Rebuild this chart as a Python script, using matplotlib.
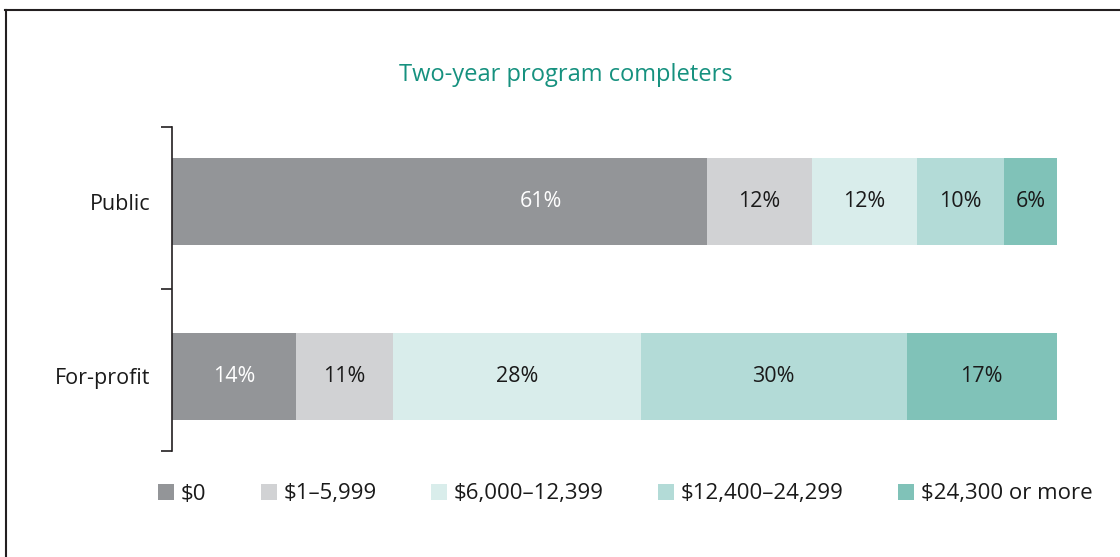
import matplotlib.pyplot as plt
import numpy as np
from matplotlib.patches import Patch
from matplotlib.lines import Line2D

plt.rcParams['font.family'] = ['Open Sans', 'DejaVu Sans']

sectors = ['Public', 'For-profit']
brackets = ['$0', '$1–5,999', '$6,000–12,399', '$12,400–24,299', '$24,300 or more']
public = [61, 12, 12, 10, 6]
for_profit = [14, 11, 28, 30, 17]
colors = ['#939598', '#d1d2d4', '#d9edeb', '#b3dbd7', '#80c2b8']
text_colors = ['white', '#1a1a1a', '#1a1a1a', '#1a1a1a', '#1a1a1a']

data = np.array([public, for_profit], dtype=float)
# bars fill the whole width, so scale each row to its own total
shares = data / data.sum(axis=1, keepdims=True) * 100

# where the label sits inside its segment (0 = left edge, 1 = right edge)
label_pos = np.full(data.shape, 0.5)
label_pos[0, 0] = 0.69

fig = plt.figure(figsize=(11.2, 5.57), dpi=100)
ax = fig.add_axes([172 / 1120, 1 - 451 / 557, 885 / 1120, 324 / 557])

y = np.arange(len(sectors))
left = np.zeros(len(sectors))
for j in range(len(brackets)):
    ax.barh(y, shares[:, j], left=left, height=0.5, color=colors[j], edgecolor='none')
    for i in range(len(sectors)):
        ax.text(left[i] + shares[i, j] * label_pos[i, j], y[i], f'{int(data[i, j])}%',
                ha='center', va='center', fontsize=15.5, color=text_colors[j])
    left += shares[:, j]

ax.set_xlim(0, 100)
ax.set_ylim(1.43, -0.43)
for s in ['top', 'right', 'bottom']:
    ax.spines[s].set_visible(False)
ax.spines['left'].set_color('#231f20')
ax.spines['left'].set_linewidth(1.2)
ax.set_xticks([])
ax.set_yticks(y)
ax.set_yticklabels(sectors, fontsize=15.5, color='#1a1a1a')
ax.tick_params(axis='y', which='major', length=0, pad=15.5)
ax.set_yticks([-0.43, 0.5, 1.43], minor=True)
ax.tick_params(axis='y', which='minor', length=8, width=1.2, color='#231f20', direction='out')

fig.text(566 / 1120, 1 - 75 / 557, 'Two-year program completers', ha='center', va='center',
         fontsize=17, color='#16917f')

handles = [Patch(facecolor=c, edgecolor='none') for c in colors]
fig.legend(handles, brackets, loc='center left', bbox_to_anchor=(138 / 1120, 1 - 494 / 557),
           ncol=5, frameon=False, fontsize=16, handlelength=0.72, handleheight=0.72,
           handletextpad=0.3, columnspacing=2.45, labelcolor='#1a1a1a')

# frame around the figure: left and top edges only
fig.add_artist(Line2D([5.5 / 1120, 5.5 / 1120], [0, 1 - 10 / 557], transform=fig.transFigure,
                      color='#231f20', linewidth=1.5))
fig.add_artist(Line2D([5 / 1120, 1], [1 - 10 / 557, 1 - 10 / 557], transform=fig.transFigure,
                      color='#231f20', linewidth=1.5))

fig.savefig('out.png', dpi=100)
